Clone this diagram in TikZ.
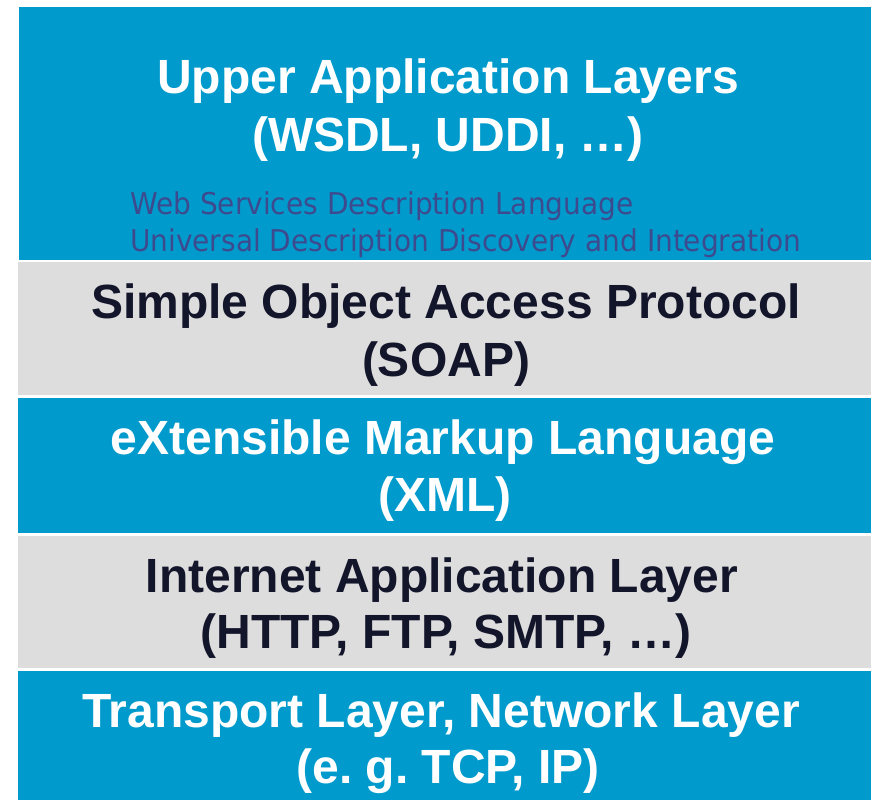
\documentclass[tikz,border=0pt]{standalone}
\usepackage{fontspec}
\setmainfont{Liberation Sans}
\newfontfamily\notefont[FakeStretch=0.933]{DejaVu Sans}
\definecolor{layerblue}{HTML}{009BCC}
\definecolor{layergray}{HTML}{DDDDDD}
\definecolor{darktext}{HTML}{13152B}
\definecolor{notetext}{HTML}{3E4A8E}
\frenchspacing
\begin{document}
\begin{tikzpicture}[x=1pt,y=-1pt,
  title/.style={anchor=base,inner sep=0pt,font=\fontsize{48}{57}\selectfont\bfseries},
  onblue/.style={title,text=white},
  ongray/.style={title,text=darktext},
  note/.style={anchor=base west,inner sep=0pt,text=notetext,font=\notefont\fontsize{30}{37}\selectfont}]
\useasboundingbox (0,0) rectangle (871,800);
% layer bands, top to bottom
\fill[layerblue] (19,7) rectangle (871,260);
\fill[layergray] (18,261.5) rectangle (871,395);
\fill[layerblue] (18,398) rectangle (871,532.5);
\fill[layergray] (18,535.5) rectangle (871,668);
\fill[layerblue] (18,671) rectangle (871,800);
% texts
\node[onblue] (upA) at (448,93) {Upper Application Layers};
\node[onblue] (upB) at (448,151) {(WSDL, UDDI, …)};
\node[note] (wsdl) at (130,214) {Web Services Description Language};
\node[note] (uddi) at (130,251.5) {Universal Description Discovery and Integration};
\node[ongray] (soapA) at (446,318) {Simple Object Access Protocol};
\node[ongray] (soapB) at (446,376) {(SOAP)};
\node[onblue] (xmlA) at (443,454) {eXtensible Markup Language};
\node[onblue] (xmlB) at (445,511) {(XML)};
\node[ongray] (inetA) at (442,592) {Internet Application Layer};
\node[ongray] (inetB) at (446,648) {(HTTP, FTP, SMTP, …)};
\node[onblue] (tranA) at (441,727) {Transport Layer, Network Layer};
\node[onblue] (tranB) at (448,783) {(e. g. TCP, IP)};
\end{tikzpicture}
\end{document}
